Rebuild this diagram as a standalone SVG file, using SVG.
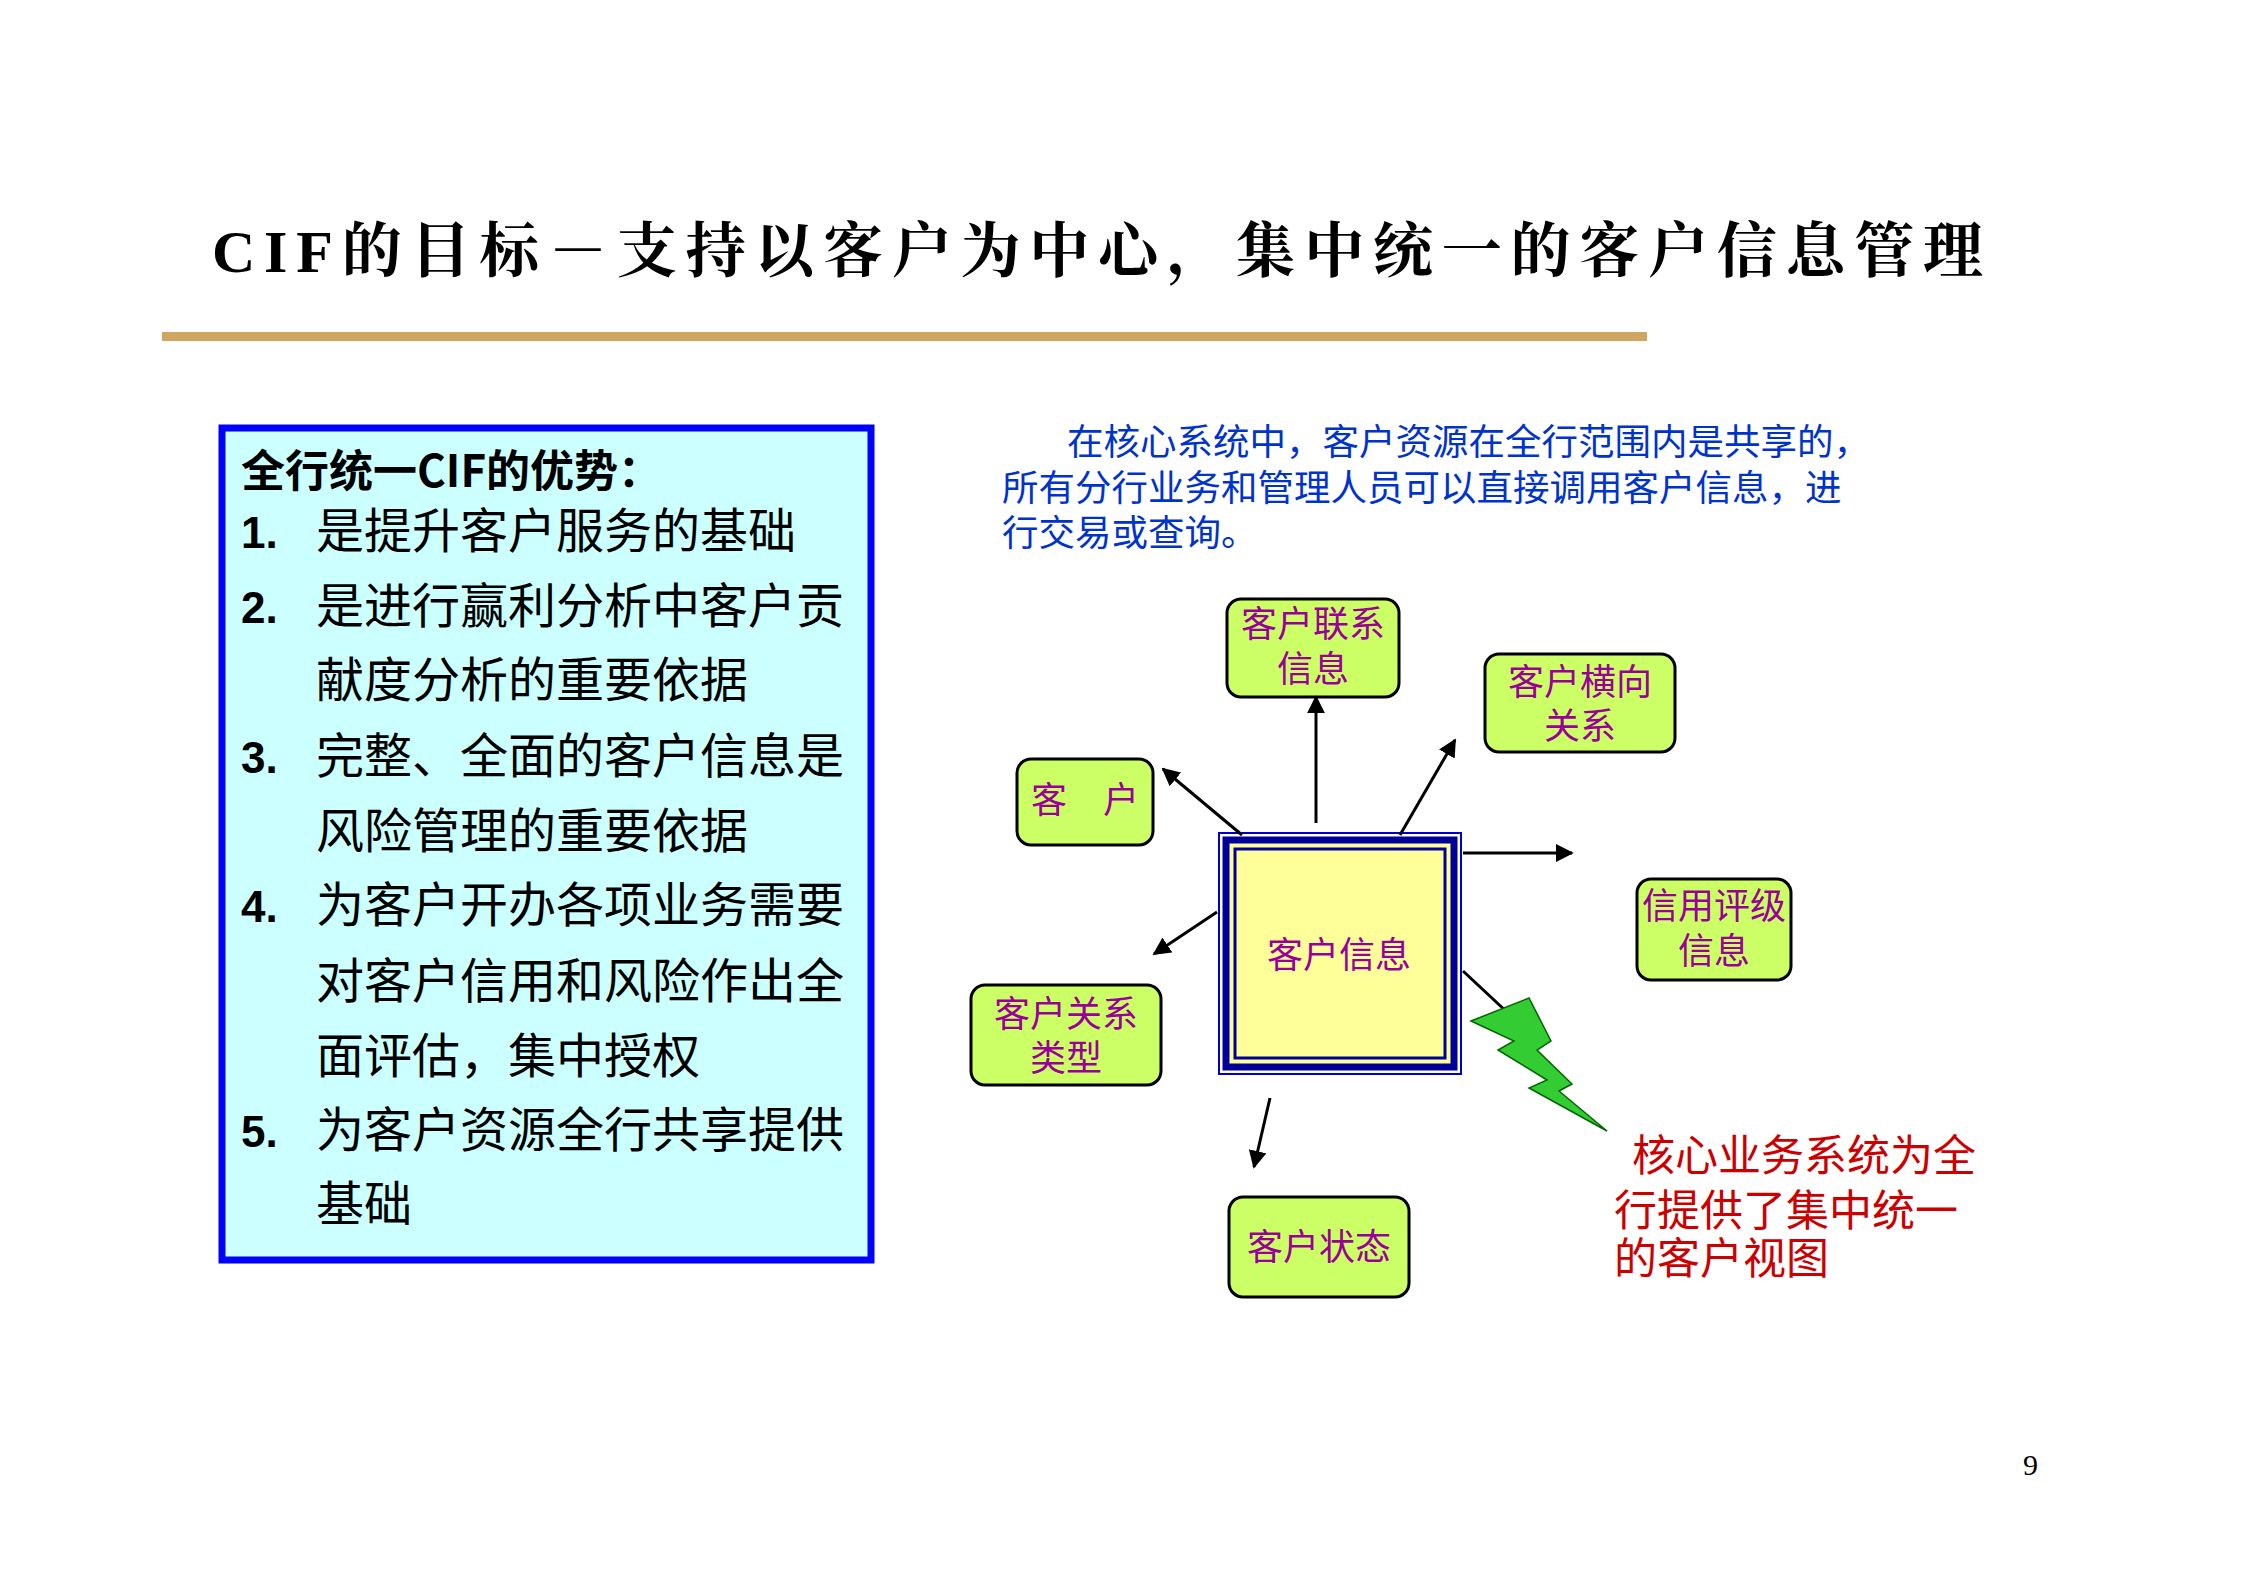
<svg xmlns="http://www.w3.org/2000/svg" width="2245" height="1586" viewBox="0 0 2245 1586">
<defs>
<style>
.cjk{font-family:"Noto Sans CJK SC","Liberation Sans",sans-serif}
.node rect.b{fill:#CCFF66;stroke:#000;stroke-width:3}
.nt{font-family:"Noto Sans CJK SC",sans-serif;font-size:36px;fill:#990099;text-anchor:middle}
.li{font-family:"Noto Sans CJK SC",sans-serif;font-size:48px;fill:#000}
.num{font-family:"Liberation Sans",sans-serif;font-weight:bold;font-size:44px}
.conn line{stroke:#000;stroke-width:3;marker-end:url(#ah)}
</style>
<marker id="ah" viewBox="0 0 10 10" refX="9" refY="5" markerWidth="6" markerHeight="6" orient="auto"><path d="M0,0L10,5L0,10z" fill="#000"/></marker>
</defs>
<rect width="2245" height="1586" fill="#fff"/>
<text x="212" y="272" font-family="Liberation Serif,'Noto Serif CJK SC','Noto Sans CJK SC',serif" font-weight="bold" font-size="60" textLength="1771" lengthAdjust="spacing">CIF的目标－支持以客户为中心，集中统一的客户信息管理</text>
<rect x="162" y="332" width="1485" height="9" fill="#CFA660"/>
<g id="advantages">
<rect x="222" y="428" width="649" height="832" fill="#CCFFFF" stroke="#0000FF" stroke-width="7"/>
<text x="241" y="487" class="cjk" font-weight="bold" font-size="44">全行统一CIF的优势：</text>
<text x="241" y="548" class="num">1.</text><text x="316" y="548" class="li">是提升客户服务的基础</text>
<text x="241" y="623" class="num">2.</text><text x="316" y="623" class="li">是进行赢利分析中客户贡</text>
<text x="316" y="697" class="li">献度分析的重要依据</text>
<text x="241" y="773" class="num">3.</text><text x="316" y="773" class="li">完整、全面的客户信息是</text>
<text x="316" y="848" class="li">风险管理的重要依据</text>
<text x="241" y="922" class="num">4.</text><text x="316" y="922" class="li">为客户开办各项业务需要</text>
<text x="316" y="998" class="li">对客户信用和风险作出全</text>
<text x="316" y="1073" class="li">面评估，集中授权</text>
<text x="241" y="1147" class="num">5.</text><text x="316" y="1147" class="li">为客户资源全行共享提供</text>
<text x="316" y="1221" class="li">基础</text>
</g>
<g id="note" class="cjk" font-size="36.5" fill="#0033CC">
<text x="1067" y="455">在核心系统中，客户资源在全行范围内是共享的，</text>
<text x="1002" y="501">所有分行业务和管理人员可以直接调用客户信息，进</text>
<text x="1002" y="546">行交易或查询。</text>
</g>
<g id="center">
<rect x="1219" y="833" width="242" height="241" fill="#fff" stroke="#0000CC" stroke-width="2"/>
<rect x="1226" y="840" width="228" height="227" fill="#FFFF99" stroke="#000099" stroke-width="7"/>
<rect x="1235" y="849" width="210" height="209" fill="#FFFF99" stroke="#000099" stroke-width="3"/>
<text x="1339" y="968" class="nt">客户信息</text>
</g>
<g id="n1" class="node"><rect class="b" x="1227" y="599" width="172" height="98" rx="14"/><text class="nt" x="1313" y="637">客户联系</text><text class="nt" x="1313" y="682">信息</text></g>
<g id="n2" class="node"><rect class="b" x="1485" y="654" width="190" height="98" rx="14"/><text class="nt" x="1580" y="695">客户横向</text><text class="nt" x="1580" y="739">关系</text></g>
<g id="n3" class="node"><rect class="b" x="1017" y="759" width="136" height="86" rx="14"/><text class="nt" x="1085" y="813">客　户</text></g>
<g id="n4" class="node"><rect class="b" x="1637" y="879" width="154" height="101" rx="14"/><text class="nt" x="1714" y="919">信用评级</text><text class="nt" x="1714" y="964">信息</text></g>
<g id="n5" class="node"><rect class="b" x="971" y="985" width="190" height="100" rx="14"/><text class="nt" x="1066" y="1027">客户关系</text><text class="nt" x="1066" y="1071">类型</text></g>
<g id="n6" class="node"><rect class="b" x="1229" y="1197" width="180" height="100" rx="14"/><text class="nt" x="1319" y="1260">客户状态</text></g>
<g id="connectors" class="conn">
<line x1="1316" y1="823" x2="1316" y2="697"/>
<line x1="1242" y1="835" x2="1163" y2="769"/>
<line x1="1400" y1="835" x2="1455" y2="740"/>
<line x1="1463" y1="853" x2="1572" y2="853"/>
<line x1="1217" y1="912" x2="1154" y2="954"/>
<line x1="1270" y1="1098" x2="1254" y2="1167"/>
<line x1="1463" y1="971" x2="1509" y2="1014" style="marker-end:none"/>
</g>
<polygon points="1471,1021 1529,998 1551,1041 1537,1050 1572,1084 1559,1091 1607,1131 1529,1088 1547,1080 1498,1050 1514,1041" fill="#33CC33" stroke="#006600" stroke-width="1.5"/>
<g id="callout" class="cjk" font-size="43" fill="#CC0000">
<text x="1632" y="1171">核心业务系统为全</text>
<text x="1614" y="1226">行提供了集中统一</text>
<text x="1614" y="1274">的客户视图</text>
</g>
<text x="2023" y="1475" font-family="Liberation Serif,serif" font-size="30">9</text>
</svg>
